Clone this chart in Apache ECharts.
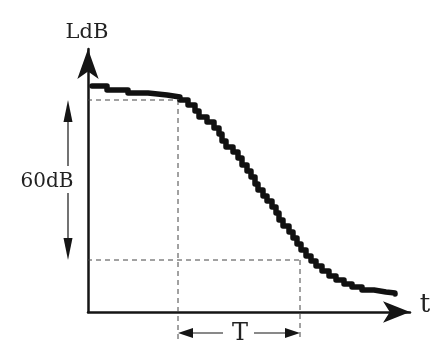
<!DOCTYPE html>
<html>
<head>
<meta charset="utf-8">
<script src="https://cdn.jsdelivr.net/npm/echarts@6/dist/echarts.min.js"></script>
<style>
html,body{margin:0;padding:0;background:#fff;}
#chart{width:434px;height:340px;}
</style>
</head>
<body>
<div id="chart"></div>
<script>
// decay curve, staircase levels (time offset, level)
var decayT = [4,19,40,60,79,92,100,107,111,119,126,131,134,138,145,150,154,159,163,167,170,175,179,184,188,191,195,201,205,209,213,218,223,228,234,241,248,256,264,274,286,298,307];
var decayL = [226,222,219,217,215,212,207,201,195,190,184,178,171,165,160,154,147,141,135,128,122,116,111,105,99,92,86,80,74,68,62,56,51,46,41,36,32,28,25,22,20,19,18];

// reference levels / times for the guides
var levelTop = 212;
var levelLow = 52;
var tStart = 90;
var tEnd = 212;
var guideLeft = -28;
var guideBottom = -30;

var labelLevel = '60dB';
var labelT = 'T';
var labelY = 'LdB';
var labelX = 't';

var ink = '#151515';

var myChart = echarts.init(document.getElementById('chart'));

var curve = [];
for (var i = 0; i < decayT.length; i++) {
	curve.push([decayT[i], decayL[i]]);
}

function dashed(data) {
	return {
		type: 'line',
		data: data,
		clip: false,
		silent: true,
		symbol: 'none',
		lineStyle: { color: '#444', width: 1, type: [5, 4] },
		z: 1
	};
}

var option = {
	animation: false,
	grid: { left: 88, top: 49, right: 24, bottom: 28 },
	xAxis: {
		type: 'value', min: 0, max: 322,
		axisLine: { show: true, lineStyle: { color: ink, width: 2.5 }, symbol: ['none', 'arrow'], symbolSize: [16, 27] },
		axisTick: { show: false }, axisLabel: { show: false }, splitLine: { show: false }
	},
	yAxis: {
		type: 'value', min: 0, max: 263,
		axisLine: { show: true, lineStyle: { color: ink, width: 2.5 }, symbol: ['none', 'arrow'], symbolSize: [16, 30] },
		axisTick: { show: false }, axisLabel: { show: false }, splitLine: { show: false }
	},
	series: [
		dashed([[guideLeft, levelTop], [tStart, levelTop]]),
		dashed([[tStart, levelTop], [tStart, guideBottom]]),
		dashed([[guideLeft, levelLow], [tEnd, levelLow]]),
		dashed([[tEnd, levelLow], [tEnd, guideBottom]]),
		{
			type: 'line',
			data: curve,
			step: 'end',
			symbol: 'none',
			lineStyle: { color: '#111', width: 5.5, join: 'round', cap: 'round' },
			z: 5
		}
	]
};
myChart.setOption(option);

function px(x, y) {
	return myChart.convertToPixel({ gridIndex: 0 }, [x, y]);
}

function seg(a, b, w) {
	return { type: 'line', shape: { x1: a[0], y1: a[1], x2: b[0], y2: b[1] }, style: { stroke: ink, lineWidth: w || 1.2 }, silent: true };
}

function head(tip, dir, len, half) {
	// dir: unit vector pointing toward tip
	var bx = tip[0] - dir[0] * len, by = tip[1] - dir[1] * len;
	var nx = -dir[1] * half, ny = dir[0] * half;
	return { type: 'polygon', shape: { points: [[tip[0], tip[1]], [bx + nx, by + ny], [bx - nx, by - ny]] }, style: { fill: ink }, silent: true };
}

function text(str, p, size) {
	return { type: 'text', x: p[0], y: p[1], style: { text: str, font: size + 'px "DejaVu Serif"', fill: '#222', align: 'center', verticalAlign: 'middle' }, silent: true };
}

var g = [];
// 60dB double arrow
var aTop = px(-20, levelTop), aLow = px(-20, levelLow), txt60 = px(-41, 130);
g.push(seg([aTop[0], aTop[1] + 10], [aTop[0], txt60[1] - 16]));
g.push(seg([aTop[0], txt60[1] + 11], [aLow[0], aLow[1] - 10]));
g.push(head(aTop, [0, -1], 22, 4.5));
g.push(head(aLow, [0, 1], 22, 4.5));
g.push(text(labelLevel, txt60, 20));
// T double arrow
var tL = px(tStart, -21), tR = px(tEnd, -21), tTxt = px(152, -21);
g.push(seg([tL[0] + 10, tL[1]], [tTxt[0] - 17, tL[1]]));
g.push(seg([tTxt[0] + 14, tL[1]], [tR[0] - 10, tR[1]]));
g.push(head(tL, [-1, 0], 15, 5));
g.push(head(tR, [1, 0], 15, 5));
g.push(text(labelT, [tTxt[0], tTxt[1] + 1], 24));
// axis names
g.push(text(labelY, px(-1, 279), 21));
g.push(text(labelX, px(337, 7), 26));

myChart.setOption({ graphic: g });
</script>
</body>
</html>
